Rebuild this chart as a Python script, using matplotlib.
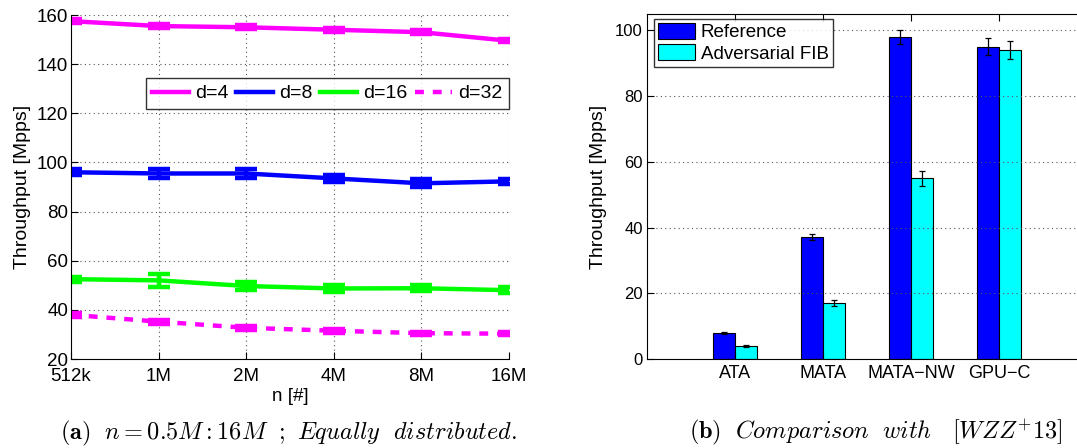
import matplotlib
matplotlib.use("Agg")
import matplotlib.pyplot as plt
from matplotlib.lines import Line2D
import numpy as np

plt.rcParams['font.family'] = ['Liberation Sans', 'DejaVu Sans']
plt.rcParams['mathtext.fontset'] = 'cm'

# ---- left panel data ----
n_labels = ["512k", "1M", "2M", "4M", "8M", "16M"]
series_names = ["d=4", "d=8", "d=16", "d=32"]
d4 = [157.5, 155.5, 155.0, 154.0, 153.0, 149.5]
d4_err = [0.8, 0.8, 0.8, 0.8, 0.8, 0.6]
d8 = [96.0, 95.5, 95.5, 93.5, 91.5, 92.3]
d8_err = [1.2, 2.0, 1.8, 1.5, 1.6, 1.0]
d16 = [52.5, 52.0, 49.7, 48.7, 48.8, 48.0]
d16_err = [1.0, 2.5, 1.5, 1.5, 1.3, 1.2]
d32 = [38.0, 35.2, 32.7, 31.5, 30.5, 30.3]
d32_err = [0.8, 0.8, 0.8, 0.8, 0.6, 0.5]

# ---- right panel data ----
methods = ["ATA", "MATA", "MATA\u2212NW", "GPU\u2212C"]
bar_series = ["Reference", "Adversarial FIB"]
ref_vals = [8.0, 37.0, 98.0, 95.0]
ref_err = [0.3, 0.9, 2.2, 2.6]
adv_vals = [4.0, 17.0, 55.0, 94.0]
adv_err = [0.3, 0.9, 2.3, 2.7]

fig = plt.figure(figsize=(10.77, 4.48), dpi=100)

# ---------- left ----------
ax1 = fig.add_axes([71/1077, 1-359/448, (509-71)/1077, (359-15)/448])
x = np.arange(len(n_labels))
styles = [("#ff00ff", "-", d4, d4_err), ("#0000ff", "-", d8, d8_err),
          ("#00ff00", "-", d16, d16_err), ("#ff00ff", "--", d32, d32_err)]
handles = []
for name, (c, ls, vals, err) in zip(series_names, styles):
    dash = (2.0, 2.0) if ls == "--" else None
    eb = ax1.errorbar(x, vals, yerr=err, color=c, linestyle=ls, lw=3.2,
                      capsize=8, capthick=3.2, elinewidth=3.2)
    if dash:
        eb[0].set_dashes(dash)
    h = Line2D([], [], color=c, lw=3.2, linestyle=ls)
    if dash:
        h.set_dashes(dash)
    handles.append(h)
ax1.set_xlim(0, len(n_labels)-1)
ax1.set_ylim(20, 160)
ax1.set_yticks(np.arange(20, 161, 20))
ax1.set_xticks(x)
ax1.set_xticklabels(n_labels)
ax1.grid(True, linestyle=(0, (1, 3)), color="#555555", lw=0.8)
ax1.spines['top'].set_visible(False)
ax1.spines['right'].set_visible(False)
ax1.tick_params(direction='in', labelsize=13.5, length=5)
ax1.tick_params(axis='x', pad=6.5)
ax1.tick_params(axis='y', pad=2)
ax1.set_ylabel("Throughput [Mpps]", fontsize=14, labelpad=4)
ax1.set_xlabel("n [#]", fontsize=13.5, labelpad=2)
leg1 = ax1.legend(handles, series_names, ncol=4, loc="upper right", bbox_to_anchor=(1.0, 0.817),
                  fontsize=14, frameon=True, fancybox=False, edgecolor="black",
                  handlelength=1.9, columnspacing=0.4, handletextpad=0.3,
                  borderpad=0.35, borderaxespad=0.0)
leg1.get_frame().set_linewidth(1.0)

# ---------- right ----------
ax2 = fig.add_axes([647/1077, 1-359/448, 440/1077, (359-14)/448])
xb = np.arange(1, len(methods)+1)
w = 0.25
ax2.bar(xb - w/2, ref_vals, w, yerr=ref_err, color="#0000ff", edgecolor="black",
        lw=0.8, capsize=2.5, error_kw=dict(elinewidth=0.9, capthick=0.9), label=bar_series[0])
ax2.bar(xb + w/2, adv_vals, w, yerr=adv_err, color="#00ffff", edgecolor="black",
        lw=0.8, capsize=2.5, error_kw=dict(elinewidth=0.9, capthick=0.9), label=bar_series[1])
ax2.set_xlim(0, 5)
ax2.set_ylim(0, 105)
ax2.set_yticks(np.arange(0, 101, 20))
ax2.set_xticks(xb)
ax2.set_xticklabels(methods)
ax2.grid(True, axis='y', linestyle=(0, (1, 3)), color="#555555", lw=0.8)
ax2.tick_params(direction='in', length=5, top=True, right=True)
ax2.tick_params(axis='y', labelsize=12, pad=3)
ax2.tick_params(axis='x', labelsize=13, pad=4)
ax2.set_ylabel("Throughput [Mpps]", fontsize=14, labelpad=6)
leg2 = ax2.legend(loc="upper left", bbox_to_anchor=(0.016, 0.985), fontsize=13.5,
                  frameon=True, fancybox=False, edgecolor="black",
                  handlelength=2.0, handleheight=0.95, handletextpad=0.3,
                  borderpad=0.2, labelspacing=0.15, borderaxespad=0.0)
leg2.get_frame().set_linewidth(1.0)

# ---------- captions ----------
fig.text(289/1077, 1-433/448, r"$\mathbf{(a)}\ \ \mathit{n{=}0.5M{:}16M\ \ ;\ Equally\ \ distributed.}$",
         ha="center", va="center", fontsize=17.5)
fig.text(876/1077, 1-433/448, r"$\mathbf{(b)}\ \ \mathit{Comparison\ \ with\ \ \ [WZZ^{+}13]}$",
         ha="center", va="center", fontsize=17.5)

fig.savefig("out.png", dpi=100)
